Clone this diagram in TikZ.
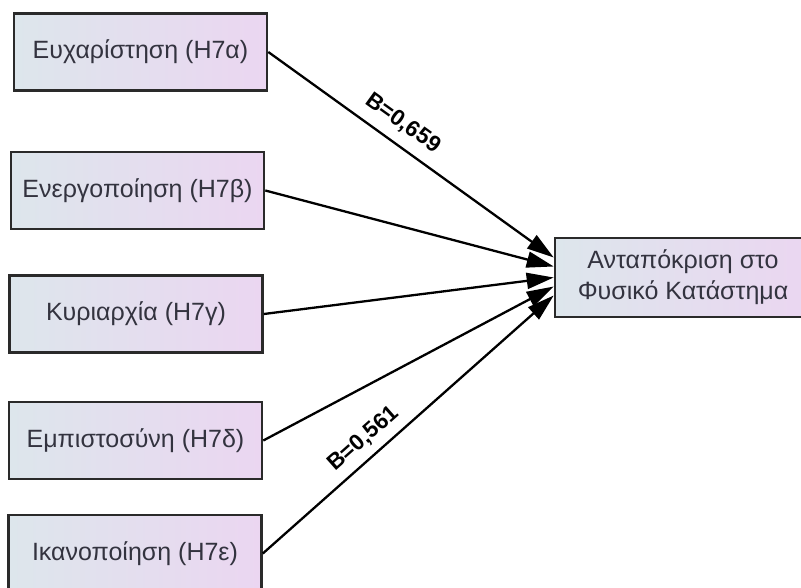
\documentclass[tikz,border=0pt]{standalone}
\usepackage{fontspec}
\setmainfont{Liberation Sans}
\usetikzlibrary{arrows.meta}
\definecolor{boxleft}{HTML}{DDE6EC}
\definecolor{boxright}{HTML}{EBD6F1}
\definecolor{boxline}{HTML}{2A2A2A}
\definecolor{boxtext}{HTML}{33333F}
\newcommand{\boxfont}{\fontsize{25}{31}\selectfont}
\newcommand{\coeffont}{\fontsize{22.5}{26}\selectfont\bfseries}
\tikzset{
  factor/.style={draw=boxline,line width=2.6pt,left color=boxleft,right color=boxright,
    minimum width=253pt,minimum height=77pt,inner sep=0pt,text=boxtext,
    font=\boxfont,align=center},
  link/.style={line width=2.3pt,-{Triangle[length=27pt,width=16pt]}},
  coef/.style={sloped,font=\coeffont,inner sep=2pt}
}

\begin{document}
\begin{tikzpicture}[x=1pt,y=-1pt]
  \useasboundingbox (0,0) rectangle (801,588);

  % predictors
  \node[factor] (h7a) at (140.5,52) {Ευχαρίστηση (Η7α)};
  \node[factor] (h7b) at (137.5,190.5) {Ενεργοποίηση (Η7β)};
  \node[factor] (h7c) at (136,314) {Κυριαρχία (Η7γ)};
  \node[factor] (h7d) at (135.5,440.5) {Εμπιστοσύνη (Η7δ)};
  \node[factor] (h7e) at (135,553.5) {Ικανοποίηση (Η7ε)};

  % outcome
  \node[factor,minimum width=256pt,minimum height=79pt] (resp) at (683,277.5)
    {Ανταπόκριση στο\\Φυσικό Κατάστημα};

  \draw[link] (h7a.east) -- node[coef,above=8pt,pos=0.43] {B=0,659} ([yshift=20pt]resp.west);
  \draw[link] (h7b.east) -- ([yshift=11pt]resp.west);
  \draw[link] (h7c.east) -- (resp.west);
  \draw[link] (h7d.east) -- ([yshift=-9pt]resp.west);
  \draw[link] (h7e.east) -- node[coef,above=6pt,pos=0.39] {B=0,561} ([yshift=-18pt]resp.west);
\end{tikzpicture}
\end{document}
